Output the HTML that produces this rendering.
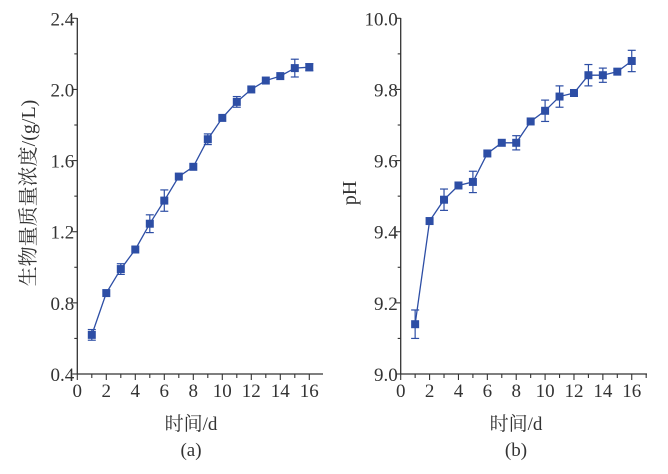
<!DOCTYPE html>
<html><head><meta charset="utf-8"><style>
html,body{margin:0;padding:0;background:#fff;}
svg{display:block;}
text{font-family:"Liberation Serif","Noto Serif CJK SC",serif;fill:#333;}
</style></head><body>
<svg id="s" width="668" height="474" viewBox="0 0 668 474" xmlns="http://www.w3.org/2000/svg">
<text x="191" y="430" font-size="19" text-anchor="middle">时间/d</text>
<text x="191" y="456" font-size="19" text-anchor="middle">(a)</text>
<text x="516" y="430" font-size="19" text-anchor="middle">时间/d</text>
<text x="516" y="456" font-size="19" text-anchor="middle">(b)</text>
<text transform="translate(35,193) rotate(-90)" font-size="20" text-anchor="middle">生物量质量浓度/(g/L)</text>
<text transform="translate(356,193) rotate(-90)" font-size="20" text-anchor="middle">pH</text>
</svg>
<script>
var s=document.getElementById('s'),NS='http://www.w3.org/2000/svg';
function el(t,a,txt){var e=document.createElementNS(NS,t);for(var k in a)e.setAttribute(k,a[k]);if(txt!=null)e.textContent=txt;s.appendChild(e);return e;}
function chart(o){
 var X=function(v){return o.x0+v*o.xs;},Y=function(v){return 374-(v-o.ymin)/(o.ymax-o.ymin)*355.7;};
 el('line',{x1:o.x0,y1:18,x2:o.x0,y2:374.5,stroke:'#333','stroke-width':1.3});
 el('line',{x1:o.x0,y1:374,x2:o.xend,y2:374,stroke:'#333','stroke-width':1.3});
 for(var i=0;i<=17;i++){var x=X(i);if(x>o.xend)break;el('line',{x1:x,y1:374,x2:x,y2:i%2?378:380,stroke:'#333','stroke-width':1.1});
  if(i%2==0&&i<=16)el('text',{x:x,y:397,'font-size':19,'text-anchor':'middle'},String(i));}
 for(var j=0;j<=10;j++){var v=o.ymin+j*(o.ymax-o.ymin)/10,y=Y(v);el('line',{x1:o.x0,y1:y,x2:o.x0-(j%2?3:5),y2:y,stroke:'#333','stroke-width':1.1});
  if(j%2==0)el('text',{x:o.x0-3,y:y+7,'font-size':19,'text-anchor':'end'},v.toFixed(1));}
 var pts=o.d.map(function(d,i){return X(i+1)+','+Y(d[0]);}).join(' ');
 el('polyline',{points:pts,fill:'none',stroke:'#2d4ea5','stroke-width':1.3});
 o.d.forEach(function(d,i){var x=X(i+1);if(d[1]){var a=Y(d[0]+d[1]),b=Y(d[0]-d[1]);
  el('line',{x1:x,y1:a,x2:x,y2:b,stroke:'#2d4ea5','stroke-width':1.2});
  el('line',{x1:x-4,y1:a,x2:x+4,y2:a,stroke:'#2d4ea5','stroke-width':1.2});
  el('line',{x1:x-4,y1:b,x2:x+4,y2:b,stroke:'#2d4ea5','stroke-width':1.2});}
  el('rect',{x:x-4,y:Y(d[0])-4,width:8,height:8,fill:'#2d4ea5'});});
}
chart({x0:77.3,xs:14.5,xend:323,ymin:0.4,ymax:2.4,d:[[0.62,0.03],[0.855,0],[0.99,0.03],[1.10,0],[1.245,0.05],[1.375,0.06],[1.51,0],[1.565,0],[1.72,0.03],[1.84,0],[1.93,0.03],[2.0,0],[2.05,0],[2.075,0],[2.12,0.05],[2.125,0.02]]});
chart({x0:400.7,xs:14.44,xend:647,ymin:9.0,ymax:10.0,d:[[9.14,0.04],[9.43,0],[9.49,0.03],[9.53,0],[9.54,0.03],[9.62,0],[9.65,0],[9.65,0.02],[9.71,0],[9.74,0.03],[9.78,0.03],[9.79,0],[9.84,0.03],[9.84,0.02],[9.85,0],[9.88,0.03]]});
</script>
</body></html>
